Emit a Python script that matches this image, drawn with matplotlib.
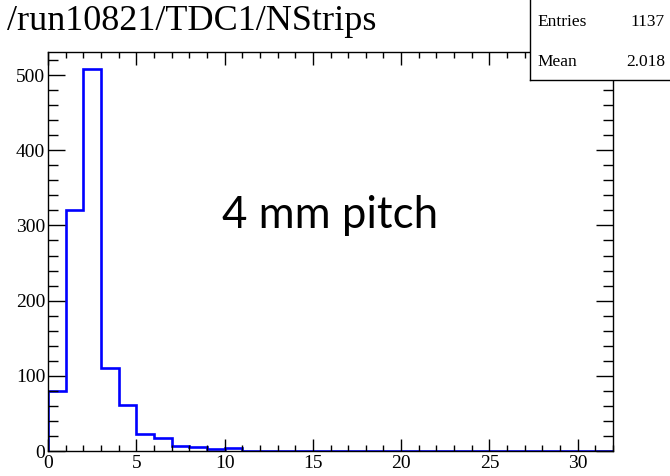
import numpy as np
import matplotlib
matplotlib.use("Agg")
import matplotlib.pyplot as plt
from matplotlib.ticker import MultipleLocator

# histogram contents, one bin per strip count (0..31)
counts = [80, 320, 508, 110, 61, 23, 17, 7, 5, 2, 4] + [0] * 21
edges = np.arange(0, 33)
title = "/run10821/TDC1/NStrips"
entries = 1137
mean = 2.018
label = "4 mm pitch"

plt.rcParams['font.family'] = ['Liberation Serif', 'DejaVu Serif']

fig = plt.figure(figsize=(6.7, 4.76), dpi=100)
ax = fig.add_axes([48 / 670, 25 / 476, 565 / 670, 399 / 476])

ax.stairs(counts, edges, color='#0000ff', lw=1.9, baseline=0)

ax.set_xlim(0, 32)
ax.set_ylim(0, 1.05 * max(counts) * 0.995)

ax.xaxis.set_major_locator(MultipleLocator(5))
ax.xaxis.set_minor_locator(MultipleLocator(1))
ax.yaxis.set_major_locator(MultipleLocator(100))
ax.yaxis.set_minor_locator(MultipleLocator(20))
ax.tick_params(which='both', direction='in', top=True, right=True,
               labelsize=14, width=1, color='black')
ax.tick_params(axis='x', which='major', length=9, pad=3)
ax.tick_params(axis='x', which='minor', length=4.5)
ax.tick_params(axis='y', which='major', length=12, pad=2)
ax.tick_params(axis='y', which='minor', length=7)
for s in ax.spines.values():
    s.set_linewidth(1.0)

fig.text(7 / 670, 1 - 22 / 476, title, fontsize=26, va='center', ha='left')

# stats box
bx = fig.add_axes([530 / 670, 1 - 80 / 476, 150 / 670, 82 / 476])
bx.set_xticks([])
bx.set_yticks([])
for s in bx.spines.values():
    s.set_linewidth(1.0)
bx.set_xlim(530, 680)
bx.set_ylim(80, -2)
bx.text(537, 22, "Entries", fontsize=12.5, va='center', ha='left')
bx.text(665, 22, str(entries), fontsize=12.5, va='center', ha='right')
bx.text(537, 62, "Mean", fontsize=12.5, va='center', ha='left')
bx.text(665, 62, f"{mean:.3f}", fontsize=12.5, va='center', ha='right')

fig.text(330 / 670, 1 - 215 / 476, label, fontsize=31.5, va='center', ha='center',
         family=['Lato', 'DejaVu Sans'])

fig.savefig("out.png", dpi=100)
